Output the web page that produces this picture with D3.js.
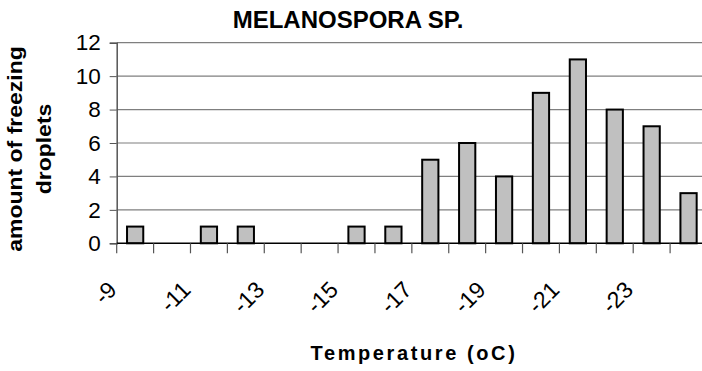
<!DOCTYPE html>
<html>
<head>
<meta charset="utf-8">
<script src="https://cdn.jsdelivr.net/npm/d3@7"></script>
<style>
  body { margin: 0; background: #fff; }
  svg { display: block; font-family: "Liberation Sans", Arial, sans-serif; }
</style>
</head>
<body>
<div class="viz"></div>
<script>
// temperatures (oC) and number of droplets that froze at each
const temps = [-9, -10, -11, -12, -13, -14, -15, -16, -17, -18, -19, -20, -21, -22, -23, -24]
const counts = [1, 0, 1, 1, 0, 0, 1, 1, 5, 6, 4, 9, 11, 8, 7, 3]
const shownTemps = [-9, -11, -13, -15, -17, -19, -21, -23]
const yTicks = [0, 2, 4, 6, 8, 10, 12]

const w = 702, h = 371
const padL = 116.7, padR = 707, padT = 42.7, padB = 243.3

const svg = d3.select(".viz").append("svg")
  .attr("width", w)
  .attr("height", h)

const x = d3.scaleBand()
  .domain(temps)
  .range([padL, padR])
  .paddingInner(0.56)
  .paddingOuter(0.28)

const y = d3.scaleLinear()
  .domain([0, 12])
  .range([padB, padT])

// gridlines
svg.append("g")
  .selectAll("line")
  .data(yTicks.filter(d => d > 0))
  .enter()
  .append("line")
  .attr("x1", padL).attr("x2", w)
  .attr("y1", d => y(d)).attr("y2", d => y(d))
  .attr("stroke", "#7f7f7f")
  .attr("stroke-width", 1.2)

// y axis
const yAxis = svg.append("g")
  .attr("transform", `translate(${padL},0)`)
  .call(d3.axisLeft(y).tickValues(yTicks).tickSize(7).tickPadding(9))
yAxis.select(".domain").attr("stroke", "#555").attr("stroke-width", 1.5)
yAxis.selectAll(".tick line").attr("stroke", "#555")
yAxis.selectAll("text")
  .attr("font-family", "Liberation Sans, Arial, sans-serif")
  .attr("font-size", 22.5)
  .attr("fill", "#000")

// bars
svg.selectAll("rect.bar")
  .data(counts)
  .enter()
  .append("rect")
  .attr("class", "bar")
  .attr("x", (d, i) => x(temps[i]))
  .attr("y", d => y(d))
  .attr("width", x.bandwidth())
  .attr("height", d => y(0) - y(d))
  .attr("fill", "#c0c0c0")
  .attr("stroke", "#000")
  .attr("stroke-width", 2)

// x axis: line + ticks between categories
const gap = (x.step() - x.bandwidth()) / 2
const xg = svg.append("g")
xg.append("line")
  .attr("x1", padL).attr("x2", w)
  .attr("y1", y(0)).attr("y2", y(0))
  .attr("stroke", "#000").attr("stroke-width", 1.5)
xg.selectAll("line.tk")
  .data(temps)
  .enter()
  .append("line")
  .attr("class", "tk")
  .attr("x1", d => x(d) - gap).attr("x2", d => x(d) - gap)
  .attr("y1", y(0)).attr("y2", y(0) + 10)
  .attr("stroke", "#555").attr("stroke-width", 1.2)

xg.selectAll("text")
  .data(shownTemps)
  .enter()
  .append("text")
  .attr("transform", d => `translate(${x(d) + x.bandwidth() / 2 - 17},${y(0) + 48}) rotate(-45)`)
  .attr("text-anchor", "end")
  .attr("font-size", 23)
  .text(d => d)

// titles
svg.append("text")
  .attr("x", 348).attr("y", 28)
  .attr("text-anchor", "middle")
  .attr("font-size", 24)
  .attr("font-weight", "bold")
  .text("MELANOSPORA SP.")

svg.append("text")
  .attr("x", 414).attr("y", 360)
  .attr("text-anchor", "middle")
  .attr("font-size", 20)
  .attr("font-weight", "bold")
  .attr("letter-spacing", 2.6)
  .text("Temperature (oC)")

const k = 0.85
const yl = svg.append("text")
  .attr("transform", `translate(0,149) scale(${k},1) rotate(-90)`)
  .attr("text-anchor", "middle")
  .attr("font-size", 23)
  .attr("font-weight", "bold")
yl.append("tspan").attr("x", 0).attr("y", 22.5 / k).text("amount of freezing")
yl.append("tspan").attr("x", 0).attr("y", 51 / k).text("droplets")
</script>
</body>
</html>
